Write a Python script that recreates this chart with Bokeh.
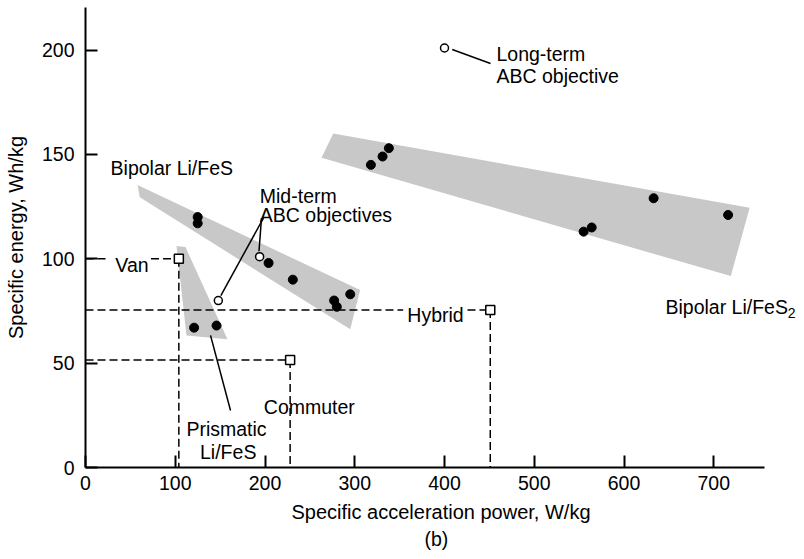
from bokeh.plotting import figure
from bokeh.models import FixedTicker, Title, Range1d
from bokeh.core.properties import value
from bokeh.embed import file_html
from bokeh.resources import INLINE

FONT = "Liberation Sans"

# ---------------- data ----------------
x_ticks = [0, 100, 200, 300, 400, 500, 600, 700]
y_ticks = [0, 50, 100, 150, 200]

# Bipolar Li/FeS2 cells
fes2_x = [318, 331, 338, 555, 564, 633, 716]
fes2_y = [145, 149, 153, 113, 115, 129, 121]
# Bipolar Li/FeS cells
fesb_x = [125, 125, 204, 231, 277, 280, 295]
fesb_y = [120, 117, 98, 90, 80, 77, 83]
# Prismatic Li/FeS cells
prism_x = [121, 146]
prism_y = [67, 68]
# ABC objectives
mid_x = [194, 148]
mid_y = [101, 80]
long_x = [400]
long_y = [201]
# Vehicle goals
goal_names = ["Van", "Commuter", "Hybrid"]
goal_x = [104, 228, 451]
goal_y = [100, 51.5, 75.5]

# shaded regions (corner points)
band_fes2_x = [276, 740, 719, 263]
band_fes2_y = [160, 124.4, 91.7, 148.4]
band_fesb_x = [58, 306, 295, 60.5]
band_fesb_y = [135.3, 85, 66.2, 129.5]
band_pr_x = [101.4, 111.4, 158.2, 112.5]
band_pr_y = [106.1, 105.6, 61.4, 63.3]

# ---------------- figure ----------------
p = figure(width=796, height=551, output_backend="svg", toolbar_location=None,
           x_range=Range1d(0, 792.2), y_range=Range1d(0, 220.4),
           min_border_left=85, min_border_right=0, min_border_top=7,
           min_border_bottom=84)
p.outline_line_color = None
p.grid.visible = False
p.background_fill_color = "white"
p.border_fill_color = "white"

for ax in (p.xaxis[0], p.yaxis[0]):
    ax.axis_line_width = 2
    ax.axis_line_color = "black"
    ax.major_tick_line_width = 2
    ax.major_tick_line_color = "black"
    ax.major_tick_in = 12
    ax.major_tick_out = 0
    ax.minor_tick_line_color = None
    ax.major_label_text_font = FONT
    ax.major_label_text_font_size = "19.5px"
    ax.major_label_text_color = "black"
    ax.axis_label_text_font = FONT
    ax.axis_label_text_font_size = "20px"
    ax.axis_label_text_font_style = "normal"
    ax.axis_label_text_color = "black"

p.xaxis.ticker = FixedTicker(ticks=x_ticks)
p.yaxis.ticker = FixedTicker(ticks=y_ticks)
p.xaxis.bounds = (0, 756)
p.yaxis.bounds = (0, 220.4)
p.xaxis.axis_label = "Specific acceleration power, W/kg"
p.yaxis.axis_label = "Specific energy, Wh/kg"
p.xaxis.major_label_standoff = 8
p.yaxis.major_label_standoff = 11
p.xaxis.axis_label_standoff = 8
p.yaxis.axis_label_standoff = 12

BAND = "#c8c8c8"
p.patch(band_fes2_x, band_fes2_y, fill_color=BAND, line_color=None)
p.patch(band_fesb_x, band_fesb_y, fill_color=BAND, line_color=None)
p.patch(band_pr_x, band_pr_y, fill_color=BAND, line_color=None)

# dashed guide lines for vehicle goals
dash = dict(line_color="black", line_width=1.5, line_dash="8 4")
# verticals from each goal down to the axis
p.segment(x0=goal_x, y0=goal_y, x1=goal_x, y1=[0, 0, 0], **dash)
# horizontals (with gaps for the inline labels of Van and Hybrid)
p.segment(x0=[0, 73, 0, 0, 425.6],
          y0=[goal_y[0], goal_y[0], goal_y[1], goal_y[2], goal_y[2]],
          x1=[26, goal_x[0], goal_x[1], 354, goal_x[2]],
          y1=[goal_y[0], goal_y[0], goal_y[1], goal_y[2], goal_y[2]], **dash)

# leader lines
lead = dict(line_color="black", line_width=1.5)
p.segment(x0=[196.1, 198.3, 408.6, 139.3],
          y0=[119.5, 119.5, 200.3, 63.3],
          x1=[193.3, 150.8, 451.3, 161.6],
          y1=[103.6, 82.4, 193.6, 27.3], **lead)

# points
p.scatter(fes2_x, fes2_y, size=9, color="black")
p.scatter(fesb_x, fesb_y, size=9, color="black")
p.scatter(prism_x, prism_y, size=9, color="black")
p.scatter(mid_x, mid_y, size=8, marker="circle", fill_color="white",
          line_color="black", line_width=1.5)
p.scatter(long_x, long_y, size=8, marker="circle", fill_color="white",
          line_color="black", line_width=1.5)
p.scatter(goal_x, goal_y, size=9, marker="square", fill_color="white",
          line_color="black", line_width=1.5)

# text annotations
txt = dict(text_font=value(FONT), text_font_size="19.5px", text_color="black",
           text_baseline="alphabetic")
p.text(x=[27.9], y=[143.4], text=["Bipolar Li/FeS"], text_align="left", **txt)
p.text(x=[194.2, 194.2], y=[130.0, 120.8], text=["Mid-term", "ABC objectives"],
       text_align="left", **txt)
p.text(x=[457.9, 457.9], y=[198.0, 187.4], text=["Long-term", "ABC objective"],
       text_align="left", **txt)
p.text(x=[51.8], y=[96.8], text=[goal_names[0]], text_align="center", **txt)
p.text(x=[390.0], y=[72.9], text=[goal_names[2]], text_align="center", **txt)
p.text(x=[198.7], y=[28.8], text=[goal_names[1]], text_align="left", **txt)
p.text(x=[157.1, 159.0], y=[18.4, 7.2], text=["Prismatic", "Li/FeS"],
       text_align="center", **txt)
p.text(x=[646.2], y=[76.9], text=["Bipolar Li/FeS"], text_align="left", **txt)
p.text(x=[782.5], y=[74.2], text=["2"], text_align="left",
       text_font=value(FONT), text_font_size="14px", text_color="black",
       text_baseline="alphabetic")

p.add_layout(Title(text="(b)", align="left", offset=339, standoff=0,
                   text_font=FONT, text_font_size="19.5px",
                   text_font_style="normal", text_color="black"), "below")

open("out.html", "w").write(file_html(p, INLINE))
